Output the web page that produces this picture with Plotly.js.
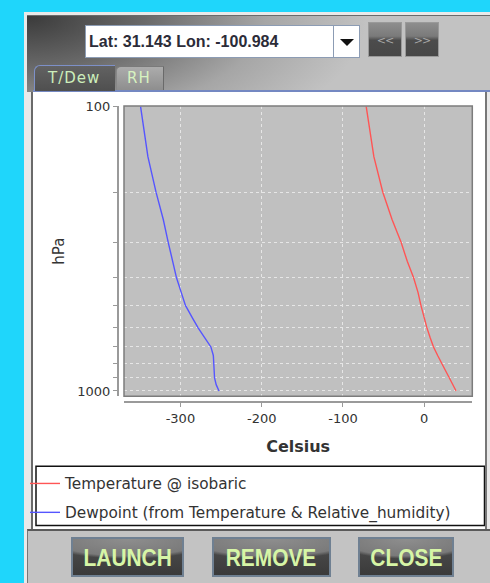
<!DOCTYPE html>
<html><head><meta charset="utf-8">
<script src="https://cdn.plot.ly/plotly-3.0.1.min.js"></script>
<style>
html,body{margin:0;padding:0;width:490px;height:583px;overflow:hidden;background:#1fd6fb;font-family:"DejaVu Sans",sans-serif;}
.abs{position:absolute;box-sizing:border-box;}
#frame{left:24px;top:12px;width:470px;height:580px;background:#e9e9e9;}
#head{left:27px;top:15px;width:470px;height:77px;border-top:1px solid #6a6a6a;
 background:radial-gradient(ellipse 340px 150px at 0 0,#3a3a3a 0%,#6a6a6a 35%,#a6a6a6 70%,#c2c2c2 100%);}
#combo{left:85px;top:25px;width:249px;height:33px;background:#fff;border:1px solid #8c9cb4;
 font-family:"Liberation Sans",Arial,sans-serif;font-weight:bold;font-size:16px;color:#2c2c38;line-height:31px;padding-left:3px;white-space:nowrap;}
#arrow{left:333px;top:25px;width:27px;height:33px;background:#fff;border:1px solid #8c9cb4;}
#arrow:after{content:"";position:absolute;left:6px;top:13px;border-left:7px solid transparent;border-right:7px solid transparent;border-top:7px solid #111;}
.nav{top:22px;width:34px;height:35px;border:1px solid #9a9a9a;
 background:linear-gradient(to bottom,#8e8e8e 0%,#7a7a7a 40%,#4c4c4c 52%,#474747 100%);
 color:#a9a9a9;font-size:11px;text-align:center;line-height:35px;letter-spacing:-1px;}
#tab1{left:34px;top:65px;width:81px;height:26px;border-left:1px solid #7d90c8;border-top:1px solid #7d90c8;border-top-left-radius:6px;
 background:linear-gradient(to bottom,#626262,#4f4f4f);color:#cdeebb;font-size:15px;letter-spacing:1px;padding-left:13px;line-height:24px;}
#tab2{left:116px;top:66px;width:48px;height:24px;border-top:1px solid #7a7a7a;border-right:1px solid #6a6a6a;border-left:1px solid #888;border-top-left-radius:5px;
 background:linear-gradient(to bottom,#acacac,#8e8e8e);color:#d7f2c0;font-size:15px;letter-spacing:1px;padding-left:10px;line-height:23px;}
#bline{left:33px;top:90px;width:460px;height:2px;background:#7488c2;}
#panel{left:31px;top:92px;width:456px;height:438px;background:#fff;border-left:2px solid #6a6a6a;border-right:2px solid #777;}
#bottom{left:27px;top:529px;width:470px;height:60px;background:#c3c3c3;border-top:2px solid #5a5a5a;border-left:1px solid #777;}
.btn{top:537px;height:40px;border:2px solid #6f8092;
 background:radial-gradient(ellipse 80% 55% at 50% 0%,#8e8e8e 0%,#7a7a7a 85%,rgba(0,0,0,0) 100%),linear-gradient(to bottom,#505050,#3a3a3a);
 color:#d6f5a6;text-align:center;overflow:hidden;}
.btn span{display:inline-block;font-family:"Liberation Sans",Arial,sans-serif;font-weight:bold;font-size:24px;line-height:37px;transform:scaleX(0.87);}
#plot{left:20px;top:93px;width:465px;height:436px;}
</style></head>
<body>
<div class="abs" id="frame"></div>
<div class="abs" id="head"></div>
<div class="abs" id="combo">Lat: 31.143 Lon: -100.984</div>
<div class="abs" id="arrow"></div>
<div class="abs nav" style="left:368px">&lt;&lt;</div>
<div class="abs nav" style="left:405px">&gt;&gt;</div>
<div class="abs" id="bline"></div>
<div class="abs" id="tab2">RH</div>
<div class="abs" id="tab1">T/Dew</div>
<div class="abs" id="panel"></div>
<div class="abs" id="bottom"></div>
<div class="abs btn" style="left:71px;width:113px"><span>LAUNCH</span></div>
<div class="abs btn" style="left:212px;width:119px"><span>REMOVE</span></div>
<div class="abs btn" style="left:358px;width:96px"><span>CLOSE</span></div>
<div class="abs" id="plot"></div>
<script>
// Pressure levels (hPa)
const pressure = [100,150,200,250,300,350,400,450,500,550,600,650,700,750,800,850,900,950,1000];
// Temperature @ isobaric (Celsius)
const temperature = [-71.4,-62,-51,-39.5,-28.5,-20.9,-13.1,-7.7,-4.1,-0.4,3.3,7.3,11.4,16.5,21.6,26.5,31,35.1,39.2];
// Dewpoint (Celsius)
const dewpoint = [-349,-340,-330,-321,-315,-309.5,-304.8,-299,-293.8,-285.8,-278.2,-270,-262.5,-259.5,-259,-258.5,-258,-256,-252.5];
const seriesNames = ['Temperature @ isobaric','Dewpoint (from Temperature & Relative_humidity)'];
const xTickVals = [-300,-200,-100,0];
const xTickText = ['-300','-200','-100','0'];
const yTickVals = [100,200,300,400,500,600,700,800,900,1000];
const yTickText = ['100','','','','','','','','','1000'];

const font = 'DejaVu Sans, sans-serif';
const data = [
  {x: temperature, y: pressure, name: seriesNames[0], mode: 'lines', legendgroup: 'a',
   line: {color: '#ff5555', width: 1.4}},
  {x: dewpoint, y: pressure, name: seriesNames[1], mode: 'lines', legendgroup: 'b',
   line: {color: '#5555ff', width: 1.4}}
];
const xd = [0.22366, 0.97269], yd = [0.30275, 0.97018];
const layout = {
  width: 465, height: 436,
  margin: {l: 0, r: 0, t: 0, b: 0, pad: 0},
  paper_bgcolor: 'rgba(0,0,0,0)', plot_bgcolor: '#c0c0c0',
  font: {family: font, size: 13, color: '#333'},
  xaxis: {
    domain: xd, anchor: 'free', position: 0.28968, automargin: false,
    range: [-369.4, 59.1],
    tickvals: xTickVals, ticktext: xTickText,
    ticks: 'outside', ticklen: 4, tickcolor: '#999', tickwidth: 1, ticklabelstandoff: 0,
    showline: true, linecolor: '#9a9a9a', linewidth: 2,
    showgrid: true, gridcolor: '#e6e6e6', gridwidth: 1, griddash: '3px,3px',
    zeroline: false, tickfont: {family: font, size: 13, color: '#333'},
    title: {text: 'Celsius', font: {family: font, size: 16, color: '#333', weight: 'bold'}, standoff: 15}
  },
  yaxis: {
    domain: yd, anchor: 'free', position: 0.21075, automargin: false,
    type: 'log', range: [Math.log10(1044), Math.log10(99.5)],
    tickvals: yTickVals, ticktext: yTickText,
    ticks: 'outside', ticklen: 4, tickcolor: '#999', tickwidth: 1,
    showline: true, linecolor: '#9a9a9a', linewidth: 2,
    showgrid: true, gridcolor: '#e6e6e6', gridwidth: 1, griddash: '3px,3px',
    zeroline: false, tickfont: {family: font, size: 13, color: '#333'},
    title: {text: 'hPa', font: {family: font, size: 15, color: '#333'}, standoff: 8}
  },
  showlegend: true,
  legend: {x: 0.01075, xanchor: 'left', y: 0.1399, yanchor: 'top', bgcolor: 'rgba(0,0,0,0)',
    borderwidth: 0, tracegroupgap: 6, traceorder: 'grouped',
    font: {family: font, size: 15.3, color: '#333'}},
  shapes: [
    {type: 'rect', xref: 'paper', yref: 'paper', x0: xd[0], x1: xd[1], y0: yd[0], y1: yd[1],
     line: {color: '#7c7c7c', width: 1.5}},
    {type: 'rect', xref: 'paper', yref: 'paper', x0: 0.03441, x1: 0.99892, y0: 0.1422, y1: 0.00573,
     line: {color: '#111', width: 1.5}}
  ]
};
Plotly.newPlot('plot', data, layout, {staticPlot: true, displayModeBar: false});
</script>
</body></html>
